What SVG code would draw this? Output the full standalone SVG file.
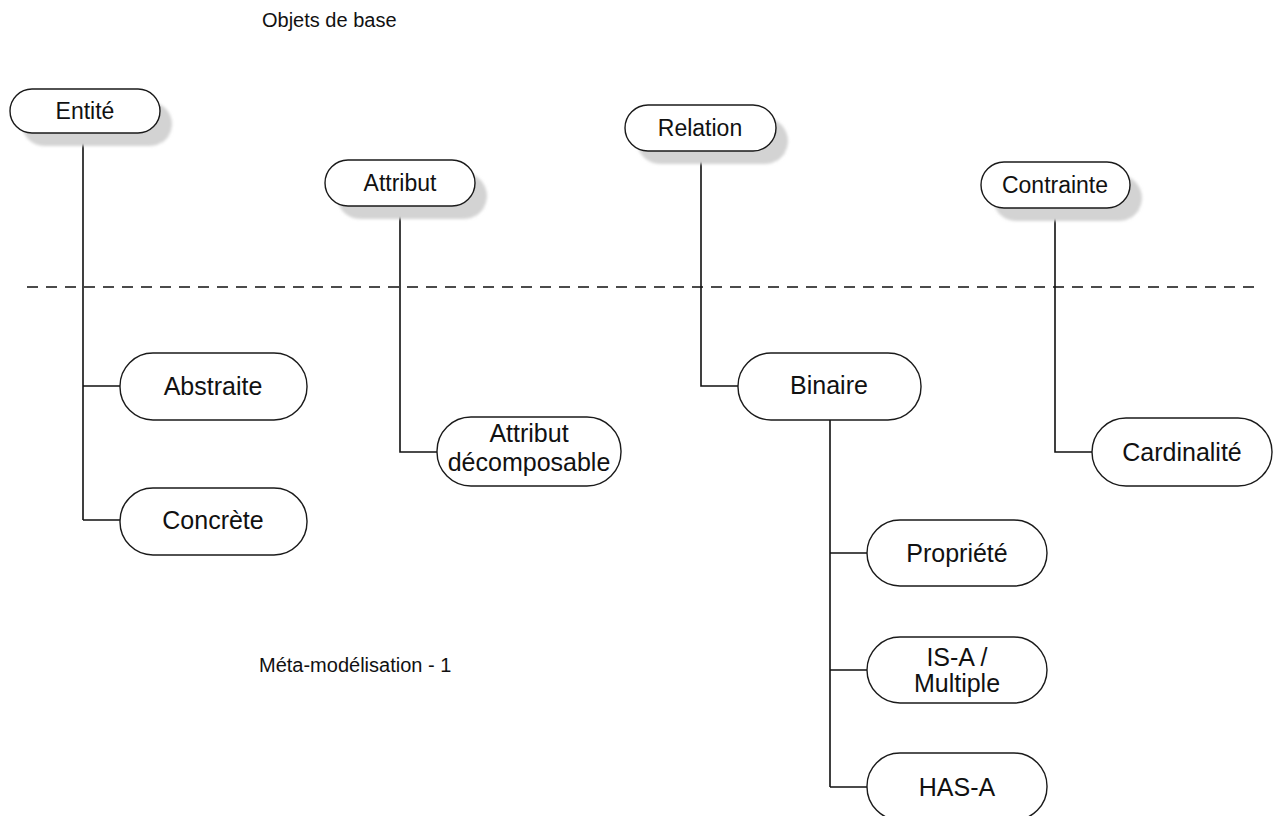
<svg xmlns="http://www.w3.org/2000/svg" width="1273" height="816" viewBox="0 0 1273 816">
  <defs>
    <!-- stippled grey used for the drop shadows of the top-level objects -->
    <pattern id="stipple" width="3" height="3" patternUnits="userSpaceOnUse">
      <rect width="3" height="3" fill="#e4e4e4"/>
      <rect x="0" y="0" width="1" height="1" fill="#a0a0a0"/>
      <rect x="2" y="1" width="1" height="1" fill="#b4b4b4"/>
      <rect x="1" y="2" width="1" height="1" fill="#aaaaaa"/>
    </pattern>
    <filter id="soft" x="-20%" y="-40%" width="140%" height="180%">
      <feGaussianBlur stdDeviation="1.5"/>
    </filter>
  </defs>
  <style>
    .pill { fill: #ffffff; stroke: #1a1a1a; stroke-width: 1.4; }
    .shadow { fill: url(#stipple); filter: url(#soft); }
    .lbl { font-family: "Liberation Sans", Arial, sans-serif; font-size: 23px; fill: #111111; text-anchor: middle; }
    .big { font-size: 25px; }
    .title { font-family: "Liberation Sans", Arial, sans-serif; font-size: 20px; fill: #111111; }
    .wire { fill: none; stroke: #111111; stroke-width: 1.6; }
    .sep { fill: none; stroke: #111111; stroke-width: 1.6; stroke-dasharray: 11 8; }
  </style>

  <rect width="1273" height="816" fill="#ffffff"/>

  <text class="title" x="262" y="27">Objets de base</text>
  <text class="title" x="259" y="672">Méta-modélisation - 1</text>

  <!-- level separator -->
  <line class="sep" x1="27" y1="287" x2="1260" y2="287"/>

  <!-- connectors -->
  <g id="connectors">
    <path class="wire" d="M83 133 V520 M83 386 H120 M83 520 H120"/>
    <path class="wire" d="M400 206 V452 H437"/>
    <path class="wire" d="M701 151 V386 H738"/>
    <path class="wire" d="M830 420 V787 M830 553 H867 M830 670 H867 M830 787 H867"/>
    <path class="wire" d="M1055 208 V452 H1092"/>
  </g>

  <!-- top-level objects -->
  <g id="entite">
    <rect class="shadow" x="22" y="102" width="150" height="44" rx="22"/>
    <rect class="pill" x="10" y="89" width="150" height="44" rx="22"/>
    <text class="lbl" x="85" y="119">Entité</text>
  </g>
  <g id="attribut">
    <rect class="shadow" x="337" y="173" width="150" height="46" rx="23"/>
    <rect class="pill" x="325" y="160" width="150" height="46" rx="23"/>
    <text class="lbl" x="400" y="191">Attribut</text>
  </g>
  <g id="relation">
    <rect class="shadow" x="637" y="118" width="151" height="46" rx="23"/>
    <rect class="pill" x="625" y="105" width="151" height="46" rx="23"/>
    <text class="lbl" x="700" y="136">Relation</text>
  </g>
  <g id="contrainte">
    <rect class="shadow" x="993" y="175" width="149" height="46" rx="23"/>
    <rect class="pill" x="981" y="162" width="149" height="46" rx="23"/>
    <text class="lbl" x="1055" y="193">Contrainte</text>
  </g>

  <!-- specialisations -->
  <g id="abstraite">
    <rect class="pill" x="120" y="353" width="187" height="67" rx="33"/>
    <text class="lbl big" x="213" y="395">Abstraite</text>
  </g>
  <g id="concrete">
    <rect class="pill" x="120" y="488" width="187" height="67" rx="33"/>
    <text class="lbl big" x="213" y="529">Concrète</text>
  </g>
  <g id="attribut-decomposable">
    <rect class="pill" x="437" y="417" width="184" height="69" rx="34"/>
    <text class="lbl big" x="529" y="442">Attribut</text>
    <text class="lbl big" x="529" y="471">décomposable</text>
  </g>
  <g id="binaire">
    <rect class="pill" x="738" y="353" width="183" height="67" rx="33"/>
    <text class="lbl big" x="829" y="394">Binaire</text>
  </g>
  <g id="cardinalite">
    <rect class="pill" x="1092" y="418" width="180" height="68" rx="34"/>
    <text class="lbl big" x="1182" y="461">Cardinalité</text>
  </g>
  <g id="propriete">
    <rect class="pill" x="867" y="520" width="180" height="66" rx="33"/>
    <text class="lbl big" x="957" y="562">Propriété</text>
  </g>
  <g id="is-a-multiple">
    <rect class="pill" x="867" y="637" width="180" height="66" rx="33"/>
    <text class="lbl big" x="957" y="666">IS-A /</text>
    <text class="lbl big" x="957" y="692">Multiple</text>
  </g>
  <g id="has-a">
    <rect class="pill" x="867" y="753" width="180" height="67" rx="33"/>
    <text class="lbl big" x="957" y="796">HAS-A</text>
  </g>
</svg>
